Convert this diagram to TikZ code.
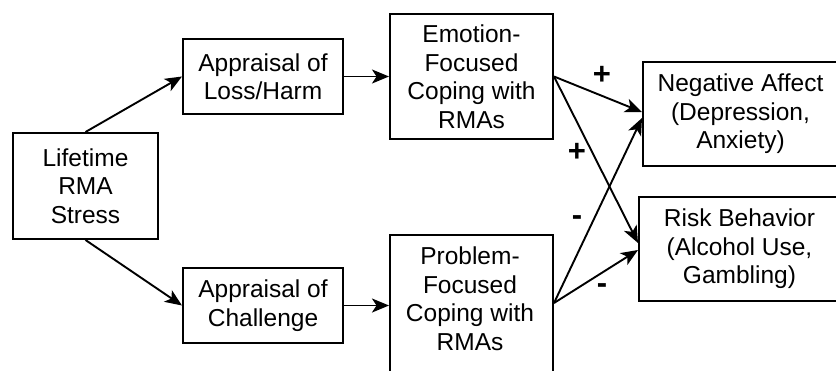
\documentclass[tikz,border=0pt]{standalone}
\usepackage{fontspec}
\setmainfont{Liberation Sans}
\usetikzlibrary{arrows.meta}
\begin{document}
\begin{tikzpicture}[x=1pt,y=-1pt,
  box/.style={draw, line width=2pt, rectangle, inner sep=0pt, align=center,
    font=\fontsize{24.5}{28.5}\selectfont},
  txt/.style={inner sep=0pt, align=center, font=\fontsize{24.5}{28.5}\selectfont},
  link/.style={line width=1.9pt, -{Stealth[length=17pt, width=14pt, inset=4.5pt]}},
  sign/.style={inner sep=0pt, font=\fontsize{31}{31}\selectfont\bfseries}]
\useasboundingbox (0,0) rectangle (836,370);
\clip (0,0) rectangle (836,370);
\fill[white] (0,0) rectangle (836,370);

% boxes
\node[box, minimum width=145pt, minimum height=106pt] (life) at (85.5,186) {Lifetime\\RMA\\Stress};
\node[box, minimum width=160pt, minimum height=75pt] (loss) at (263,76.5) {Appraisal of\\Loss/Harm};
\node[box, minimum width=160pt, minimum height=75pt] (chal) at (263,305.5) {Appraisal of\\Challenge};
\node[box, minimum width=163pt, minimum height=125pt] (emo) at (471.5,76.5) {Emotion-\\Focused\\Coping with\\RMAs};
\node[box, minimum width=163pt, minimum height=140pt] (prob) at (471.5,305) {};
\node[txt] (probtext) at (470,298.7) {Problem-\\Focused\\Coping with\\RMAs};
\node[box, minimum width=195pt, minimum height=104pt] (neg) at (740.5,114) {Negative Affect\\(Depression,\\Anxiety)};
\node[box, minimum width=201pt, minimum height=104pt] (risk) at (739.5,249) {Risk Behavior\\(Alcohol Use,\\Gambling)};

% paths
\draw[link] (life.north) -- (loss.west);
\draw[link] (life.south) -- (chal.west);
\draw[link] (loss.east) -- (emo.west);
\draw[link] (chal.east) -- (chal.east -| prob.west);
\draw[link] (emo.east) -- ([yshift=2pt]neg.west);
\draw[link] (emo.east) -- ([yshift=6pt]risk.west);
\draw[link] ([yshift=2pt]prob.east) -- ([yshift=-4pt]neg.west);
\draw[link] ([yshift=2pt]prob.east) -- ([yshift=-1pt]risk.west);

% signs
\node[sign] (s1) at (602,75) {+};
\node[sign] (s2) at (577,152) {+};
\node[sign] (s3) at (577,221) {-};
\node[sign] (s4) at (602,289) {-};
\end{tikzpicture}
\end{document}
